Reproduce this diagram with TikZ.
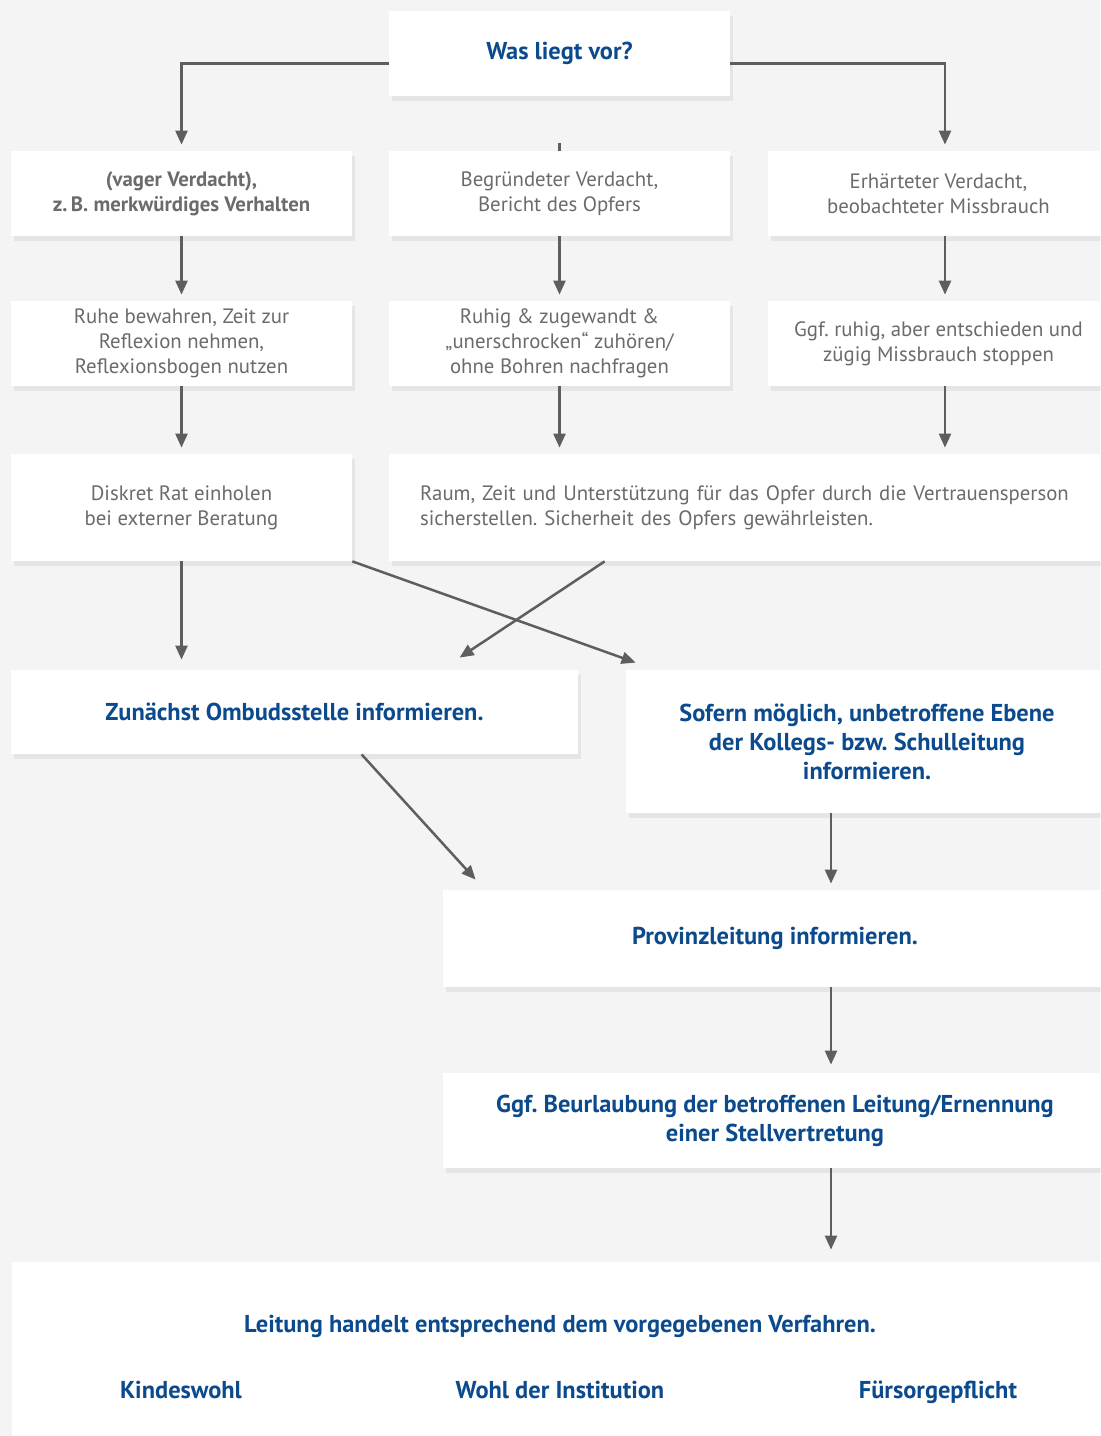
\documentclass[tikz,border=0pt]{standalone}
\usepackage{fontspec}
\setmainfont{PT Sans}
\usetikzlibrary{arrows.meta,shadows}
\definecolor{hintergrund}{HTML}{F4F4F4}
\definecolor{textgrau}{HTML}{6B6B6B}
\definecolor{liniengrau}{HTML}{5E5E5E}
\definecolor{blau}{HTML}{0B4A8C}
\frenchspacing
\tikzset{
	kasten/.style={fill=white, inner sep=0pt, align=center, drop shadow={shadow xshift=1.5pt, shadow yshift=-2.5pt, opacity=0.12}},
	klein/.style={minimum width=170.5pt, minimum height=42.5pt},
	grau/.style={kasten, text=textgrau, font=\fontsize{10.4}{12.5}\selectfont},
	blaukasten/.style={kasten, text=blau, font=\bfseries\fontsize{12.2}{14.5}\selectfont},
	blautext/.style={text=blau, anchor=base, font=\bfseries\fontsize{12.2}{14.5}\selectfont},
	pfeil/.style={draw=liniengrau, line width=1.25pt, -{Triangle[length=7pt,width=6pt]}, shorten >=3pt},
	strich/.style={draw=liniengrau, line width=1.25pt}
}
\begin{document}
\begin{tikzpicture}[x=0.5pt, y=-0.5pt]
		\useasboundingbox (0,0) rectangle (1100,1436);
		\fill[hintergrund] (0,0) rectangle (1100,1436);
		\node[blaukasten, klein] (frage) at (559.5,53.5) {Was liegt vor?};
		\node[grau, klein, font=\bfseries\fontsize{10.4}{12.5}\selectfont] (vager) at (181.5,193.5) {(vager Verdacht),\\z.\,B. merkwürdiges Verhalten};
		\node[grau, klein] (begruendet) at (559.5,193.5) {Begründeter Verdacht,\\Bericht des Opfers};
		\node[grau, klein] (erhaertet) at (938.5,193.5) {Erhärteter Verdacht,\\beobachteter Missbrauch};
		\node[grau, klein] (ruhe) at (181.5,343.5) {Ruhe bewahren, Zeit zur\\Reflexion nehmen,\\Reflexionsbogen nutzen};
		\node[grau, klein] (ruhig) at (559.5,343.5) {Ruhig \& zugewandt \&\\„unerschrocken“ zuhören/\\ohne Bohren nachfragen};
		\node[grau, klein] (stoppen) at (938.5,343.5) {Ggf. ruhig, aber entschieden und\\zügig Missbrauch stoppen};
		\node[grau, klein, minimum height=53.5pt] (rat) at (181.5,507.5) {Diskret Rat einholen\\bei externer Beratung};
		\node[grau, align=left, text width=329.5pt, minimum width=360.5pt, minimum height=53.5pt] (raum) at (749.5,507.5) {Raum, Zeit und Unterstützung für das Opfer durch die Vertrauensperson\\sicherstellen. Sicherheit des Opfers gewährleisten.};
		\node[blaukasten, minimum width=283.5pt, minimum height=42pt] (ombud) at (294.5,712) {Zunächst Ombudsstelle informieren.};
		\node[blaukasten, minimum width=241pt, minimum height=71.5pt] (sofern) at (867,741.5) {Sofern möglich, unbetroffene Ebene\\der Kollegs- bzw. Schulleitung\\informieren.};
		\node[blaukasten, minimum width=332pt, minimum height=48.5pt] (provinz) at (775,938.5) {Provinzleitung informieren.};
		\node[blaukasten, minimum width=332pt, minimum height=47.5pt] (beurlaub) at (775,1120.5) {Ggf. Beurlaubung der betroffenen Leitung/Ernennung\\einer Stellvertretung};
		\node[kasten, minimum width=548pt, minimum height=99pt] (leitung) at (560,1361) {};
		\node[blautext] (verfahren) at (560,1332) {Leitung handelt entsprechend dem vorgegebenen Verfahren.};
		\node[blautext] (kindeswohl) at (181,1398) {Kindeswohl};
		\node[blautext] (institution) at (560,1398) {Wohl der Institution};
		\node[blautext] (fuersorge) at (938,1398) {Fürsorgepflicht};
		\coordinate (stummel) at (559.5,143);
		\coordinate (achse) at (831,0);
		\draw[pfeil] ([yshift=-5pt]frage.west) -| (vager.north);
		\draw[pfeil] ([yshift=-5pt]frage.east) -| ([xshift=3.25pt]erhaertet.north);
		\draw[strich] (stummel) -- (begruendet.north);
		\draw[pfeil] (vager) -- (ruhe);
		\draw[pfeil] (begruendet) -- (ruhig);
		\draw[pfeil] ([xshift=3.25pt]erhaertet.south) -- ([xshift=3.25pt]stoppen.north);
		\draw[pfeil] (ruhe) -- (rat);
		\draw[pfeil] (ruhig.south) -- (ruhig.south |- raum.north);
		\draw[pfeil] ([xshift=3.25pt]stoppen.south) -- ([xshift=3.25pt]stoppen.south |- raum.north);
		\draw[pfeil, shorten >=5pt] (rat.south) -- (rat.south |- ombud.north);
		\draw[pfeil, shorten >=0pt] (rat.south east) -- ([xshift=5pt,yshift=3.5pt]sofern.north west);
		\draw[pfeil, shorten >=0pt] ([xshift=108pt]raum.south west) -- ([xshift=224.5pt,yshift=6pt]ombud.north west);
		\draw[pfeil, shorten >=0pt] ([xshift=175.5pt]ombud.south west) -- ([xshift=16.5pt,yshift=5pt]provinz.north west);
		\draw[pfeil] (sofern.south -| achse) -- (provinz.north -| achse);
		\draw[pfeil, shorten >=4pt] (provinz.south -| achse) -- (beurlaub.north -| achse);
		\draw[pfeil, shorten >=6pt] (beurlaub.south -| achse) -- (leitung.north -| achse);
\end{tikzpicture}
\end{document}
